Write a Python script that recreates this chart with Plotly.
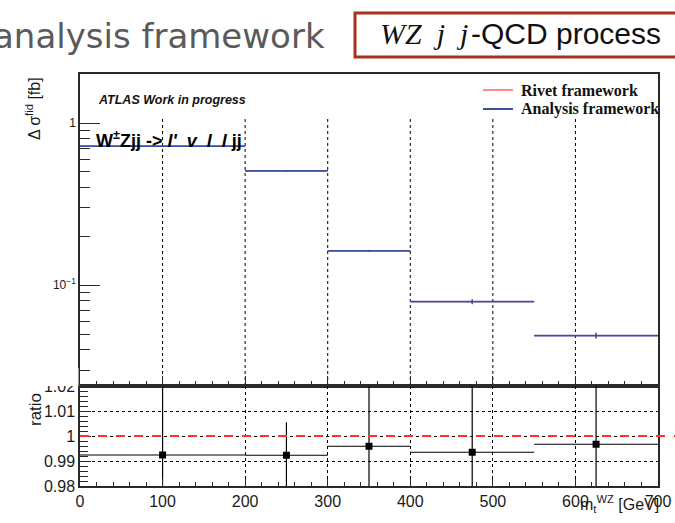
import plotly.graph_objects as go

# Binning in m_t^WZ [GeV]
bin_edges = [0, 200, 300, 400, 550, 700]
bin_centers = [100, 250, 350, 475, 625]
bin_halfwidths = [100, 50, 50, 75, 75]

# Differential fiducial cross sections [fb]
rivet_xsec = [0.720, 0.507, 0.163, 0.0792, 0.0489]
rivet_err = [0.003, 0.003, 0.002, 0.0025, 0.002]
analysis_xsec = [0.721, 0.508, 0.163, 0.0792, 0.0489]
analysis_err = [0.003, 0.003, 0.002, 0.0028, 0.002]

# Ratio panel
ratio_vals = [0.9924, 0.9923, 0.9959, 0.9935, 0.9967]
ratio_err = [0.03, 0.0132, 0.03, 0.03, 0.03]

x_tick_vals = [0, 100, 200, 300, 400, 500, 600, 700]
x_tick_text = ["0", "100", "200", "300", "400", "500", "600", "700"]
ratio_tick_vals = [0.98, 0.99, 1.0, 1.01, 1.02]
ratio_tick_text = ["0.98", "0.99", "1", "1.01", "1.02"]

W, H = 675, 523


def px(x):
    return x / W


def py(y):
    return 1 - y / H


RED = "#ff3030"
RED_LIGHT = "#ff8a8a"
BLUE = "#3d4f9f"
SANS = "Liberation Sans, Arial, sans-serif"
SERIF = "Liberation Serif, Times New Roman, serif"

fig = go.Figure()

fig.add_trace(go.Scatter(
    x=bin_centers, y=rivet_xsec, mode="markers",
    marker=dict(size=2, color=RED),
    error_x=dict(type="data", array=bin_halfwidths, color=RED, thickness=1, width=0),
    error_y=dict(type="data", array=rivet_err, color=RED, thickness=1, width=0),
    xaxis="x", yaxis="y", showlegend=False, name="Rivet framework",
))
fig.add_trace(go.Scatter(
    x=bin_centers, y=analysis_xsec, mode="markers",
    marker=dict(size=1, color=BLUE),
    error_x=dict(type="data", array=bin_halfwidths, color=BLUE, thickness=1.8, width=0),
    error_y=dict(type="data", array=analysis_err, color=BLUE, thickness=1.2, width=0),
    xaxis="x", yaxis="y", showlegend=False, name="Analysis framework",
))
fig.add_trace(go.Scatter(
    x=bin_centers, y=ratio_vals, mode="markers",
    marker=dict(symbol="square", size=7, color="black"),
    error_x=dict(type="data", array=bin_halfwidths, color="black", thickness=1.2, width=0),
    error_y=dict(type="data", array=ratio_err, color="black", thickness=1.2, width=0),
    xaxis="x2", yaxis="y2", showlegend=False, name="ratio",
))

xdom = [px(80), px(658)]
axis_common = dict(
    showline=True, linecolor="#2a2a2a", linewidth=1.5, mirror=True,
    ticks="inside", tickcolor="#2a2a2a", zeroline=False, automargin=False,
)

fig.update_layout(
    width=W, height=H, autosize=False,
    margin=dict(l=0, r=0, t=0, b=0, pad=0, autoexpand=False),
    showlegend=False,
    paper_bgcolor="white", plot_bgcolor="white",
    font=dict(family=SANS, color="#1a1a1a"),
    xaxis=dict(
        domain=xdom, anchor="y", range=[0, 700],
        tickvals=x_tick_vals, showticklabels=False, ticklen=10,
        minor=dict(dtick=20, ticks="inside", ticklen=5, tickcolor="#2a2a2a", showgrid=False),
        showgrid=False,
        **axis_common,
    ),
    yaxis=dict(
        domain=[py(386), py(74)], anchor="x", type="log",
        range=[-1.6216, 0.3032],
        tickvals=[0.1, 1], ticktext=["10<sup>\u22121</sup>", "1"],
        tickfont=dict(size=12), ticklen=20,
        minor=dict(tickvals=[0.03, 0.04, 0.05, 0.06, 0.07, 0.08, 0.09,
                             0.2, 0.3, 0.4, 0.5, 0.6, 0.7, 0.8, 0.9, 2],
                   ticks="inside", ticklen=10, tickcolor="#2a2a2a", showgrid=False),
        showgrid=False,
        **axis_common,
    ),
    xaxis2=dict(
        domain=xdom, anchor="y2", range=[0, 700],
        tickvals=x_tick_vals, ticktext=x_tick_text, tickfont=dict(size=16),
        ticklen=7,
        minor=dict(dtick=20, ticks="inside", ticklen=4, tickcolor="#2a2a2a", showgrid=False),
        showgrid=True, griddash="dot", gridcolor="#000000", gridwidth=1,
        **axis_common,
    ),
    yaxis2=dict(
        domain=[py(486), py(386)], anchor="x2", range=[0.98, 1.02],
        tickvals=ratio_tick_vals, ticktext=ratio_tick_text, tickfont=dict(size=16),
        ticklen=11,
        minor=dict(dtick=0.002, ticks="inside", ticklen=8, tickcolor="#2a2a2a", showgrid=False),
        showgrid=True, griddash="dot", gridcolor="#000000", gridwidth=1,
        **axis_common,
    ),
)

shapes = []
# dotted vertical grid in the main pad, stopping below the header labels
for xv in x_tick_vals[1:-1]:
    shapes.append(dict(type="line", xref="x", yref="y domain", x0=xv, x1=xv, y0=0, y1=0.865,
                       line=dict(color="#000000", width=1, dash="dot"), layer="below"))

# slide header box, open on the right where it runs off the page
bx0, bx1, by0, by1 = px(355), 1.0, py(57), py(13)
header_box = f"M {bx1},{by1} L {bx0},{by1} L {bx0},{by0} L {bx1},{by0}"

shapes += [
    # unity line in the ratio pad
    dict(type="line", xref="paper", yref="y2", x0=px(80), x1=1, y0=1.0, y1=1.0,
         line=dict(color=RED, width=2, dash="dash"), layer="above"),
    # main pad overlapping the top ratio label
    dict(type="rect", xref="paper", yref="paper", x0=px(30), x1=px(78.5), y0=py(386), y1=py(368),
         fillcolor="white", line=dict(width=0), layer="above"),
    # legend samples
    dict(type="line", xref="paper", yref="paper", x0=px(483), x1=px(513), y0=py(90), y1=py(90),
         line=dict(color=RED_LIGHT, width=2), layer="above"),
    dict(type="line", xref="paper", yref="paper", x0=px(483), x1=px(513), y0=py(109), y1=py(109),
         line=dict(color=BLUE, width=2), layer="above"),
    dict(type="path", xref="paper", yref="paper", path=header_box,
         line=dict(color="#a8321f", width=3), layer="above"),
]

annotations = [
    dict(text="analysis framework", x=px(327), y=py(36), xanchor="right", yanchor="middle",
         font=dict(family="DejaVu Sans", size=34, color="#5a5a5a")),
    dict(text="<i>WZ\u00a0 j\u00a0 j</i>", x=px(470), y=py(34), xanchor="right", yanchor="middle",
         font=dict(family=SERIF, size=30, color="#111111")),
    dict(text="-QCD process", x=px(469), y=py(34), xanchor="left", yanchor="middle",
         font=dict(family=SANS, size=30, color="#111111")),
    dict(text="<b><i>ATLAS Work in progress</i></b>", x=px(96), y=py(100),
         xanchor="left", yanchor="middle", font=dict(family=SANS, size=12.5, color="#111111")),
    dict(text="<b>W<sup>\u00b1</sup>Zjj -> <i>l'</i>\u00a0 <i>v</i>\u00a0 <i>l</i>\u00a0 <i>l</i> jj</b>",
         x=px(94), y=py(139), xanchor="left", yanchor="middle",
         font=dict(family=SANS, size=18, color="#000000")),
    dict(text="<b>Rivet framework</b>", x=px(519), y=py(90), xanchor="left", yanchor="middle",
         font=dict(family=SERIF, size=16, color="#111111")),
    dict(text="<b>Analysis framework</b>", x=px(519), y=py(109), xanchor="left", yanchor="middle",
         font=dict(family=SERIF, size=16, color="#111111")),
    dict(text="\u0394 \u03c3<sup>fid</sup> [fb]", x=px(33), y=py(109), textangle=-90,
         xanchor="center", yanchor="middle", font=dict(family=SANS, size=16, color="#1a1a1a")),
    dict(text="ratio", x=px(35), y=py(410), textangle=-90,
         xanchor="center", yanchor="middle", font=dict(family=SANS, size=17, color="#1a1a1a")),
    dict(text="m<sub>t</sub><sup>WZ</sup> [GeV]", x=px(661), y=py(504), xanchor="right",
         yanchor="middle", font=dict(family=SANS, size=16, color="#1a1a1a")),
]

for a in annotations:
    a.update(xref="paper", yref="paper", showarrow=False)

fig.update_layout(shapes=shapes, annotations=annotations)

fig.write_html("out.html")
